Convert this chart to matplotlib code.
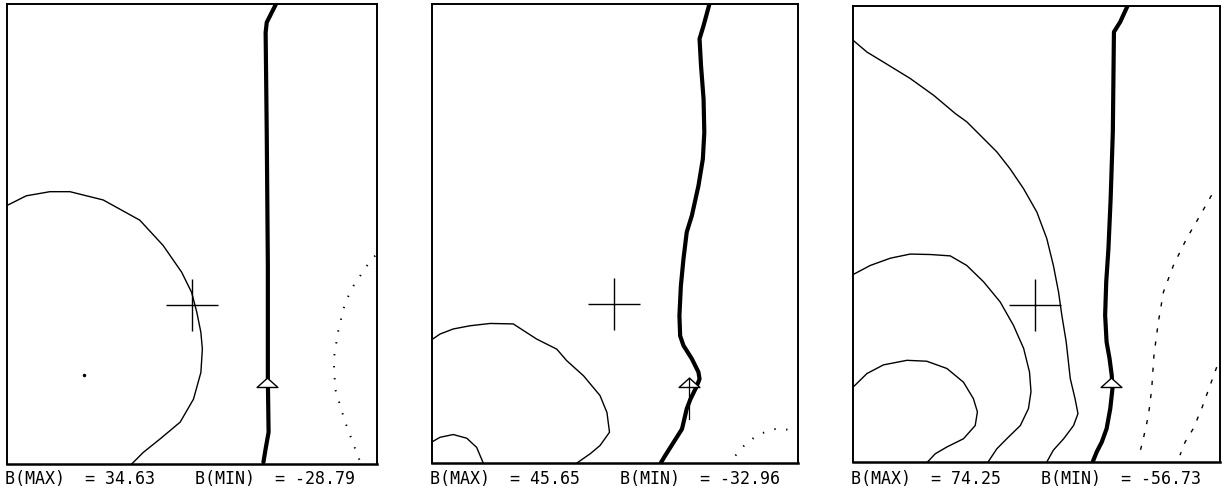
import matplotlib
matplotlib.use("Agg")
import matplotlib.pyplot as plt
from matplotlib.path import Path

# ---------------- data (panel-fraction coordinates, y upward) ----------------
B_MAX = [34.63, 45.65, 74.25]
B_MIN = [-28.79, -32.96, -56.73]

# Panel 1
P1_ZERO = [(0.727, 1.0), (0.702, 0.960), (0.699, 0.938), (0.702, 0.721), (0.705, 0.431),
           (0.705, 0.185), (0.707, 0.069), (0.699, 0.033), (0.693, 0.004)]
P1_POS = [[(0.0, 0.562), (0.052, 0.583), (0.116, 0.592), (0.170, 0.592), (0.260, 0.574),
           (0.359, 0.530), (0.422, 0.475), (0.472, 0.417), (0.499, 0.373), (0.513, 0.330),
           (0.524, 0.286), (0.528, 0.250), (0.524, 0.199), (0.504, 0.141), (0.468, 0.091),
           (0.413, 0.054), (0.368, 0.025), (0.337, 0.0)]]
P1_NEG = [[(0.995, 0.453), (0.973, 0.431), (0.937, 0.388), (0.914, 0.351), (0.896, 0.293),
           (0.883, 0.228), (0.887, 0.163), (0.914, 0.091), (0.941, 0.033), (0.955, 0.004)]]

# Panel 2
P2_ZERO = [(0.758, 1.0), (0.742, 0.953), (0.731, 0.924), (0.735, 0.866), (0.742, 0.793),
           (0.744, 0.720), (0.740, 0.662), (0.728, 0.604), (0.710, 0.539), (0.696, 0.503),
           (0.687, 0.444), (0.680, 0.386), (0.676, 0.321), (0.678, 0.277), (0.687, 0.256),
           (0.710, 0.227), (0.728, 0.198), (0.731, 0.183), (0.722, 0.165), (0.706, 0.139),
           (0.696, 0.118), (0.683, 0.074), (0.660, 0.045), (0.637, 0.016), (0.625, 0.0)]
P2_POS = [[(0.0, 0.269), (0.022, 0.281), (0.058, 0.292), (0.104, 0.299), (0.159, 0.304),
           (0.222, 0.303), (0.286, 0.270), (0.341, 0.248), (0.368, 0.223), (0.414, 0.190),
           (0.459, 0.147), (0.478, 0.110), (0.485, 0.067), (0.459, 0.038), (0.432, 0.020),
           (0.396, 0.0)],
          [(0.0, 0.046), (0.022, 0.056), (0.058, 0.062), (0.095, 0.054), (0.122, 0.034),
           (0.140, 0.0)]]
P2_NEG = [[(0.829, 0.016), (0.856, 0.041), (0.888, 0.060), (0.924, 0.072), (0.952, 0.076),
           (0.984, 0.070)]]

# Panel 3
P3_ZERO = [(0.748, 1.0), (0.728, 0.965), (0.711, 0.943), (0.710, 0.870), (0.708, 0.724),
           (0.702, 0.577), (0.696, 0.468), (0.690, 0.395), (0.687, 0.322), (0.691, 0.263),
           (0.699, 0.227), (0.705, 0.190), (0.707, 0.161), (0.701, 0.117), (0.691, 0.073),
           (0.678, 0.044), (0.664, 0.022), (0.653, 0.0)]
P3_POS = [[(0.0, 0.925), (0.038, 0.899), (0.083, 0.877), (0.156, 0.841), (0.220, 0.804),
           (0.279, 0.764), (0.310, 0.746), (0.356, 0.709), (0.392, 0.680), (0.428, 0.643),
           (0.465, 0.599), (0.501, 0.548), (0.528, 0.490), (0.546, 0.431), (0.560, 0.373),
           (0.569, 0.322), (0.581, 0.263), (0.592, 0.183), (0.605, 0.139), (0.613, 0.106),
           (0.601, 0.080), (0.574, 0.051), (0.546, 0.026), (0.528, 0.0)],
          [(0.0, 0.411), (0.047, 0.431), (0.102, 0.447), (0.156, 0.456), (0.211, 0.455),
           (0.265, 0.452), (0.310, 0.431), (0.356, 0.395), (0.401, 0.351), (0.437, 0.300),
           (0.465, 0.249), (0.481, 0.197), (0.485, 0.154), (0.478, 0.117), (0.456, 0.080),
           (0.419, 0.051), (0.392, 0.029), (0.368, 0.0)],
          [(0.0, 0.164), (0.038, 0.194), (0.083, 0.213), (0.147, 0.223), (0.201, 0.221),
           (0.256, 0.205), (0.301, 0.175), (0.328, 0.139), (0.339, 0.110), (0.333, 0.080),
           (0.301, 0.051), (0.256, 0.033), (0.224, 0.018), (0.203, 0.0)]]
P3_NEG = [[(0.977, 0.585), (0.946, 0.541), (0.909, 0.490), (0.873, 0.431), (0.846, 0.373),
           (0.832, 0.307), (0.820, 0.234), (0.814, 0.161), (0.805, 0.102), (0.791, 0.051),
           (0.782, 0.022)],
          [(0.991, 0.208), (0.973, 0.168), (0.950, 0.117), (0.927, 0.073), (0.905, 0.044),
           (0.891, 0.015)]]

CROSS = [(0.499, 0.346), (0.498, 0.346), (0.496, 0.345)]
TRIANGLE = [(0.702, 0.167), (0.702, 0.165), (0.702, 0.164)]

PANELS = [
    dict(zero=P1_ZERO, pos=P1_POS, neg=P1_NEG, neglw=1.4, negstyle=(0, (0.7, 5.5))),
    dict(zero=P2_ZERO, pos=P2_POS, neg=P2_NEG, neglw=1.4, negstyle=(0, (0.7, 5.5))),
    dict(zero=P3_ZERO, pos=P3_POS, neg=P3_NEG, neglw=1.0, negstyle=(0, (3, 6.5))),
]

# axes rectangles in pixels: left, top, right, bottom
BOXES = [(7, 5, 377, 465), (432, 5, 798, 464), (853, 7, 1220, 463)]

W, H = 1224, 489
fig = plt.figure(figsize=(W / 100, H / 100), dpi=100)
fig.patch.set_facecolor("white")

tri_marker = Path([(-1, 0), (1, 0), (0, 0.9), (-1, 0)],
                  [Path.MOVETO, Path.LINETO, Path.LINETO, Path.CLOSEPOLY])


def xy(pts):
    return [p[0] for p in pts], [p[1] for p in pts]


for i, (panel, box) in enumerate(zip(PANELS, BOXES)):
    l, t, r, b = box
    ax = fig.add_axes([l / W, 1 - b / H, (r - l) / W, (b - t) / H])
    ax.set_xlim(0, 1)
    ax.set_ylim(0, 1)
    ax.set_xticks([])
    ax.set_yticks([])
    for s in ax.spines.values():
        s.set_linewidth(1.4)
        s.set_color("black")
    ax.spines["bottom"].set_linewidth(1.8)

    x, y = xy(panel["zero"])
    ax.plot(x, y, color="black", lw=3.0, solid_capstyle="round", solid_joinstyle="round")
    for c in panel["pos"]:
        x, y = xy(c)
        ax.plot(x, y, color="black", lw=1.0)
    for c in panel["neg"]:
        x, y = xy(c)
        ax.plot(x, y, color="black", lw=panel["neglw"], linestyle=panel["negstyle"])

    cx, cy = CROSS[i]
    ax.plot([cx], [cy], marker="+", markersize=37, markeredgewidth=1.0, color="black")
    tx, ty = TRIANGLE[i]
    ax.plot([tx], [ty], marker=tri_marker, markersize=15, markerfacecolor="white",
            markeredgecolor="black", markeredgewidth=1.0, linestyle="none", zorder=5)
    if i == 1:
        ax.plot([tx, tx], [ty + 0.02, ty - 0.07], color="black", lw=0.9, zorder=6)
    if i == 0:
        ax.plot([0.208], [0.193], marker="o", markersize=1.5, color="black")

    label = "B(MAX)  = {:.2f}    B(MIN)  = {:.2f}".format(B_MAX[i], B_MIN[i])
    fig.text((l - 2) / W, 1 - 484 / H, label, family="DejaVu Sans Mono", fontsize=12,
             ha="left", va="baseline", color="black")

fig.savefig("out.png", dpi=100, facecolor="white")
